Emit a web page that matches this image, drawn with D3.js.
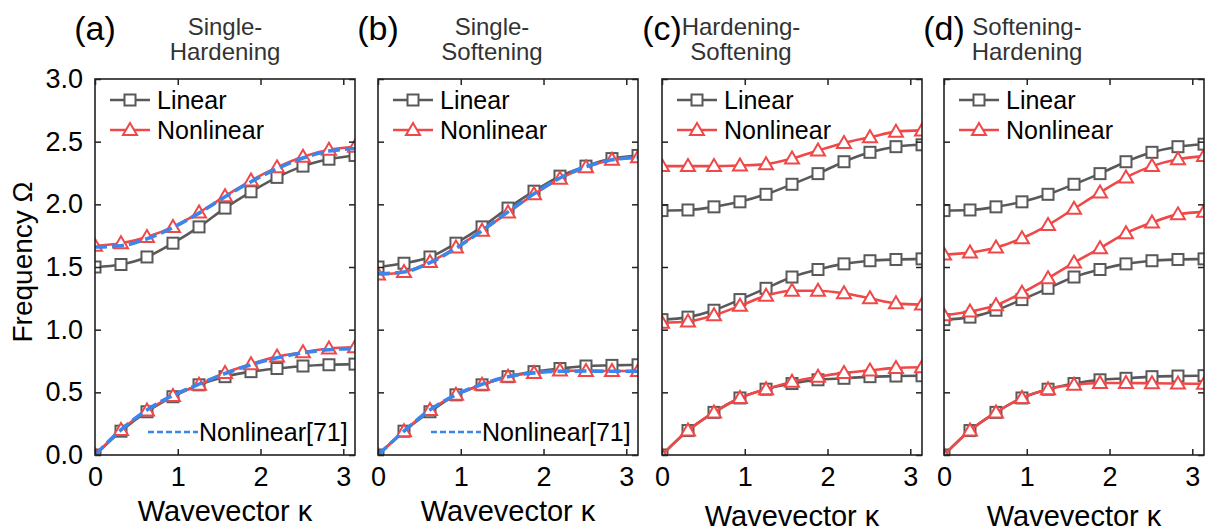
<!DOCTYPE html>
<html>
<head>
<meta charset="utf-8">
<script src="https://cdn.jsdelivr.net/npm/d3@7"></script>
<style>
  html, body { margin: 0; padding: 0; background: #fff; }
  svg { display: block; font-family: Arial, "Liberation Sans", Helvetica, sans-serif; }
</style>
</head>
<body>
<svg id="chart" width="1207" height="532"></svg>
<script>
// Wavevector sample points (0 .. pi)
const kappa = [0, 0.314, 0.628, 0.942, 1.257, 1.571, 1.885, 2.199, 2.513, 2.827, 3.142];

// (a) Single-Hardening
const aLinearLow     = [0, 0.19, 0.345, 0.465, 0.56, 0.625, 0.665, 0.69, 0.71, 0.72, 0.725];
const aLinearHigh    = [1.50, 1.52, 1.58, 1.69, 1.82, 1.97, 2.10, 2.215, 2.305, 2.36, 2.39];
const aNonlinearLow  = [0, 0.20, 0.355, 0.47, 0.56, 0.655, 0.725, 0.785, 0.82, 0.85, 0.86];
const aNonlinearHigh = [1.67, 1.69, 1.74, 1.82, 1.935, 2.065, 2.19, 2.295, 2.38, 2.435, 2.46];
const aRefLow        = [0, 0.20, 0.36, 0.475, 0.565, 0.65, 0.72, 0.775, 0.815, 0.84, 0.85];
const aRefHigh       = [1.66, 1.67, 1.725, 1.815, 1.93, 2.06, 2.18, 2.285, 2.37, 2.425, 2.445];

// (b) Single-Softening
const bLinearLow     = [0, 0.19, 0.345, 0.48, 0.56, 0.625, 0.665, 0.69, 0.71, 0.715, 0.72];
const bLinearHigh    = [1.50, 1.53, 1.58, 1.69, 1.82, 1.97, 2.105, 2.225, 2.305, 2.365, 2.39];
const bNonlinearLow  = [0, 0.19, 0.36, 0.48, 0.56, 0.625, 0.655, 0.675, 0.67, 0.67, 0.67];
const bNonlinearHigh = [1.44, 1.46, 1.54, 1.655, 1.79, 1.935, 2.08, 2.205, 2.295, 2.355, 2.375];
const bRefLow        = [0, 0.19, 0.36, 0.48, 0.565, 0.625, 0.655, 0.668, 0.67, 0.668, 0.668];
const bRefHigh       = [1.445, 1.46, 1.535, 1.65, 1.79, 1.94, 2.085, 2.21, 2.30, 2.355, 2.375];

// (c) Hardening-Softening
const cLinear1    = [0, 0.195, 0.34, 0.455, 0.525, 0.57, 0.60, 0.612, 0.625, 0.63, 0.632];
const cLinear2    = [1.08, 1.10, 1.155, 1.24, 1.33, 1.42, 1.48, 1.525, 1.55, 1.56, 1.565];
const cLinear3    = [1.95, 1.955, 1.98, 2.02, 2.08, 2.16, 2.245, 2.34, 2.415, 2.46, 2.475];
const cNonlinear1 = [0, 0.195, 0.34, 0.455, 0.525, 0.585, 0.625, 0.655, 0.675, 0.695, 0.70];
const cNonlinear2 = [1.055, 1.065, 1.115, 1.19, 1.27, 1.31, 1.31, 1.29, 1.25, 1.21, 1.20];
const cNonlinear3 = [2.305, 2.305, 2.305, 2.31, 2.32, 2.365, 2.43, 2.49, 2.535, 2.58, 2.59];

// (d) Softening-Hardening
const dLinear1    = [0, 0.195, 0.34, 0.455, 0.525, 0.57, 0.60, 0.612, 0.625, 0.63, 0.633];
const dLinear2    = [1.08, 1.10, 1.155, 1.24, 1.33, 1.42, 1.48, 1.525, 1.55, 1.56, 1.565];
const dLinear3    = [1.95, 1.955, 1.98, 2.02, 2.08, 2.16, 2.245, 2.34, 2.415, 2.46, 2.48];
const dNonlinear1 = [0, 0.195, 0.34, 0.455, 0.525, 0.56, 0.575, 0.575, 0.572, 0.57, 0.568];
const dNonlinear2 = [1.115, 1.145, 1.195, 1.295, 1.41, 1.535, 1.65, 1.77, 1.855, 1.92, 1.94];
const dNonlinear3 = [1.60, 1.615, 1.655, 1.73, 1.835, 1.965, 2.095, 2.215, 2.305, 2.36, 2.385];

const panelLabels = ["(a)", "(b)", "(c)", "(d)"];
const panelTitles = [["Single-", "Hardening"], ["Single-", "Softening"],
                     ["Hardening-", "Softening"], ["Softening-", "Hardening"]];
const yTicks = [0, 0.5, 1.0, 1.5, 2.0, 2.5, 3.0];
const xTicks = [0, 1, 2, 3];

const panels = [
  { linear: [aLinearLow, aLinearHigh], nonlinear: [aNonlinearLow, aNonlinearHigh], ref: [aRefLow, aRefHigh] },
  { linear: [bLinearLow, bLinearHigh], nonlinear: [bNonlinearLow, bNonlinearHigh], ref: [bRefLow, bRefHigh] },
  { linear: [cLinear1, cLinear2, cLinear3], nonlinear: [cNonlinear1, cNonlinear2, cNonlinear3], ref: [] },
  { linear: [dLinear1, dLinear2, dLinear3], nonlinear: [dNonlinear1, dNonlinear2, dNonlinear3], ref: [] }
];

// layout
const lefts = [95, 378, 662, 944];
const titleCenters = [225, 492, 741, 1027];
const xTitleBaseline = [521, 521, 526, 526];
const W = 260, plotTop = 79, plotBottom = 455;

const GRAY = "#595959", RED = "#f04848", BLUE = "#3a86ec", FRAME = "#222";

const svg = d3.select("#chart");
const y = d3.scaleLinear().domain([0, 3]).range([plotBottom, plotTop]);
const line = (x) => d3.line().x((d, i) => x(kappa[i])).y(d => y(d)).curve(d3.curveMonotoneX);

const triPath = "M0,-7 L7,5 L-7,5 Z";

panels.forEach((p, pi) => {
  const left = lefts[pi];
  const x = d3.scaleLinear().domain([0, Math.PI]).range([left, left + W]);
  const g = svg.append("g");

  const clipId = "clip" + pi;
  svg.append("clipPath").attr("id", clipId)
    .append("rect").attr("x", left).attr("y", plotTop).attr("width", W).attr("height", plotBottom - plotTop);

  const plot = g.append("g").attr("clip-path", `url(#${clipId})`);

  // linear branches
  p.linear.forEach(arr => {
    plot.append("path").datum(arr).attr("d", line(x))
      .attr("fill", "none").attr("stroke", GRAY).attr("stroke-width", 2.6);
    plot.selectAll(null).data(arr).enter().append("rect")
      .attr("x", (d, i) => x(kappa[i]) - 5.5).attr("y", d => y(d) - 5.5)
      .attr("width", 11).attr("height", 11)
      .attr("fill", "#fff").attr("stroke", GRAY).attr("stroke-width", 2);
  });
  // nonlinear branches
  p.nonlinear.forEach(arr => {
    plot.append("path").datum(arr).attr("d", line(x))
      .attr("fill", "none").attr("stroke", RED).attr("stroke-width", 2.6);
    plot.selectAll(null).data(arr).enter().append("path")
      .attr("d", triPath)
      .attr("transform", (d, i) => `translate(${x(kappa[i])},${y(d)})`)
      .attr("fill", "#fff").attr("stroke", RED).attr("stroke-width", 2);
  });
  // reference curves
  p.ref.forEach(arr => {
    plot.append("path").datum(arr).attr("d", line(x))
      .attr("fill", "none").attr("stroke", BLUE).attr("stroke-width", 3.6)
      .attr("stroke-dasharray", "12,5");
  });

  // axes with inward ticks
  const axL = d3.axisLeft(y).tickValues(yTicks).tickSize(-6).tickPadding(12)
    .tickFormat(pi === 0 ? d3.format(".1f") : () => "");
  const axR = d3.axisRight(y).tickValues(yTicks).tickSize(-6).tickFormat(() => "");
  const axB = d3.axisBottom(x).tickValues(xTicks).tickSize(-6).tickPadding(12).tickFormat(d3.format("d"));
  const axT = d3.axisTop(x).tickValues(xTicks).tickSize(-6).tickFormat(() => "");

  const styleAxis = (sel) => {
    sel.select(".domain").remove();
    sel.selectAll(".tick line").attr("stroke", FRAME).attr("stroke-width", 1.5);
    sel.selectAll(".tick text").attr("fill", "#000").style("font-size", "27px")
      .style("font-family", "Arial, 'Liberation Sans', sans-serif");
  };
  g.append("g").attr("transform", `translate(${left},0)`).call(axL).call(styleAxis);
  g.append("g").attr("transform", `translate(${left + W},0)`).call(axR).call(styleAxis);
  g.append("g").attr("transform", `translate(0,${plotBottom})`).call(axB).call(styleAxis);
  g.append("g").attr("transform", `translate(0,${plotTop})`).call(axT).call(styleAxis);

  // frame
  g.append("rect").attr("x", left).attr("y", plotTop).attr("width", W).attr("height", plotBottom - plotTop)
    .attr("fill", "none").attr("stroke", FRAME).attr("stroke-width", 1.6);

  // legend
  const lg = g.append("g");
  const ly1 = 100, ly2 = 130;
  lg.append("line").attr("x1", left + 15).attr("x2", left + 55).attr("y1", ly1).attr("y2", ly1)
    .attr("stroke", GRAY).attr("stroke-width", 2.6);
  lg.append("rect").attr("x", left + 35 - 5.5).attr("y", ly1 - 5.5).attr("width", 11).attr("height", 11)
    .attr("fill", "#fff").attr("stroke", GRAY).attr("stroke-width", 2);
  lg.append("text").attr("x", left + 62).attr("y", ly1).attr("dy", "0.36em")
    .style("font-size", "25px").attr("fill", "#000").text("Linear");
  lg.append("line").attr("x1", left + 15).attr("x2", left + 55).attr("y1", ly2).attr("y2", ly2)
    .attr("stroke", RED).attr("stroke-width", 2.6);
  lg.append("path").attr("d", triPath).attr("transform", `translate(${left + 35},${ly2})`)
    .attr("fill", "#fff").attr("stroke", RED).attr("stroke-width", 2);
  lg.append("text").attr("x", left + 62).attr("y", ly2).attr("dy", "0.36em")
    .style("font-size", "25px").attr("fill", "#000").text("Nonlinear");

  if (p.ref.length) {
    const ly3 = 432;
    lg.append("line").attr("x1", left + 53).attr("x2", left + 103).attr("y1", ly3).attr("y2", ly3)
      .attr("stroke", BLUE).attr("stroke-width", 2.6).attr("stroke-dasharray", "6,3");
    lg.append("text").attr("x", left + 104).attr("y", ly3).attr("dy", "0.36em")
      .style("font-size", "25px").attr("fill", "#000").text("Nonlinear[71]");
  }

  // panel label and title
  g.append("text").attr("x", left).attr("y", 40).attr("text-anchor", "middle")
    .style("font-size", "34px").attr("fill", "#000").text(panelLabels[pi]);
  panelTitles[pi].forEach((t, ti) => {
    g.append("text").attr("x", titleCenters[pi]).attr("y", 35 + ti * 25).attr("text-anchor", "middle")
      .style("font-size", "24px").attr("fill", "#333").text(t);
  });

  // x-axis title
  g.append("text").attr("x", left + W / 2).attr("y", xTitleBaseline[pi]).attr("text-anchor", "middle")
    .style("font-size", "29px").attr("fill", "#000").text("Wavevector κ");
});

// y-axis title
svg.append("text").attr("transform", `translate(32,262) rotate(-90)`).attr("text-anchor", "middle")
  .style("font-size", "28px").attr("fill", "#000").text("Frequency Ω");
</script>
</body>
</html>
